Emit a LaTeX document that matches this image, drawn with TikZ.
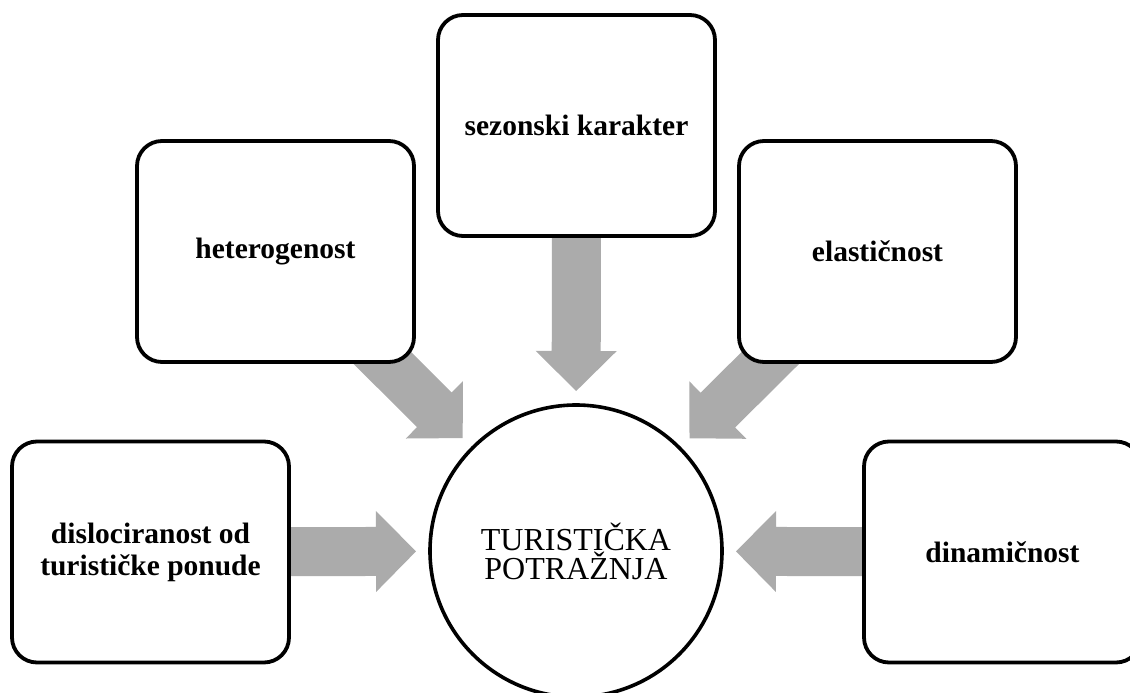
\documentclass[tikz,border=0pt]{standalone}
\usepackage{fontspec}
\setmainfont{Liberation Serif}
\usetikzlibrary{calc}
\pgfdeclarelayer{bg}
\pgfsetlayers{bg,main}
\definecolor{arrowgray}{RGB}{171,171,171}
\tikzset{
  box/.style={draw, line width=3.8pt, rounded corners=25pt, fill=white,
    minimum width=277pt, minimum height=221pt, inner sep=0pt, align=center,
    font=\bfseries\fontsize{29.5}{32}\selectfont},
  hub/.style={draw, circle, line width=3.6pt, fill=white, minimum size=292pt,
    inner sep=0pt, align=center, font=\fontsize{32}{29}\selectfont},
  fat/.style={fill=arrowgray}
}
\newcommand\fatarrow[1]{%
  \path ($(c.center)!160pt!(#1.center)$) coordinate (#1-tip);
  \path ($(#1-tip)!40pt!(#1.center)$) coordinate (#1-hb);
  \fill[fat] ($(#1.center)!24.5pt!90:(#1-tip)$) -- ($(#1-hb)!24.5pt!90:(#1-tip)$)
    -- ($(#1-hb)!40.5pt!90:(#1-tip)$) -- (#1-tip)
    -- ($(#1-hb)!40.5pt!-90:(#1-tip)$) -- ($(#1-hb)!24.5pt!-90:(#1-tip)$)
    -- ($(#1.center)!24.5pt!-90:(#1-tip)$) -- cycle;
}
\begin{document}
\begin{tikzpicture}[x=1pt, y=-1pt]
\useasboundingbox (0,0) rectangle (1130,693);
\node[hub] (c) at (576,551) {TURISTIČKA\\POTRAŽNJA};
\node[box] (dis) at (150.5,552) {dislociranost od\\turističke ponude};
\node[box] (het) at (275.5,251.5) {heterogenost};
\node[box] (sez) at (576.5,125.5) {sezonski karakter};
\node[box] (ela) at (877.5,251.5) {elastičnost};
\node[box] (dyn) at (1002.5,552) {dinamičnost};
\begin{pgfonlayer}{bg}
  \fatarrow{dis}
  \fatarrow{het}
  \fatarrow{sez}
  \fatarrow{ela}
  \fatarrow{dyn}
\end{pgfonlayer}
\end{tikzpicture}
\end{document}
